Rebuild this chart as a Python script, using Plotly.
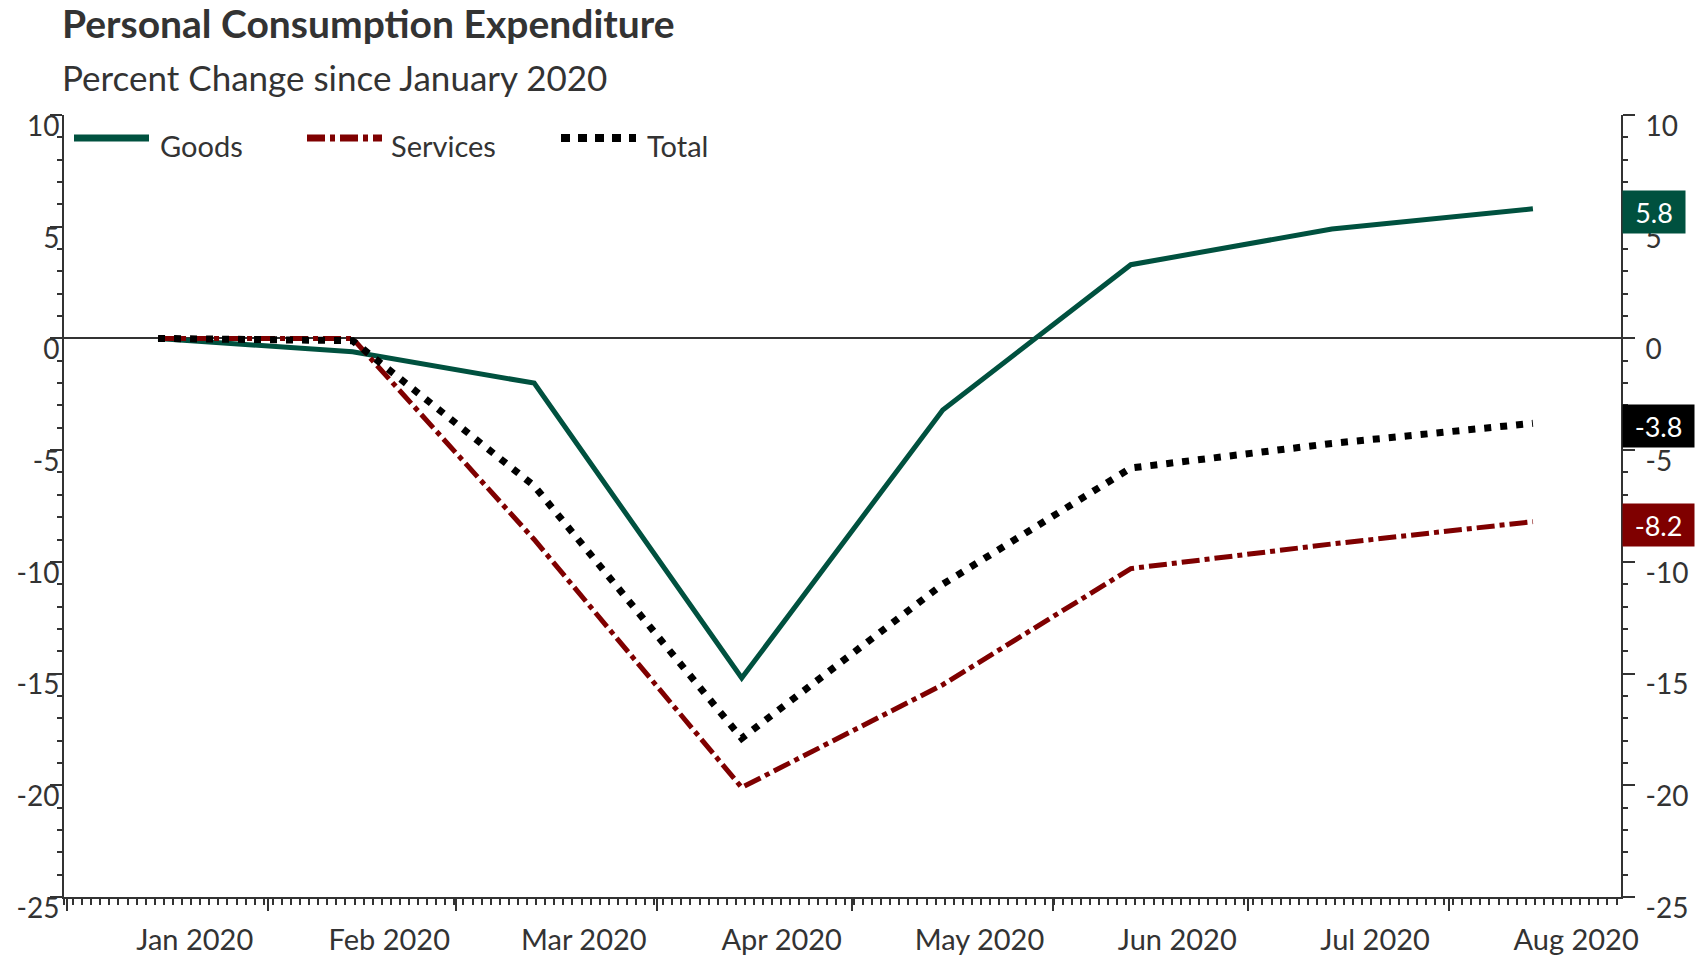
import plotly.graph_objects as go

# Monthly observations (plotted mid-month)
months = ["2020-01-15", "2020-02-14", "2020-03-13", "2020-04-14",
          "2020-05-15", "2020-06-13", "2020-07-14", "2020-08-14"]
goods = [0.0, -0.6, -2.0, -15.2, -3.2, 3.3, 4.9, 5.8]
services = [0.0, 0.0, -9.0, -20.1, -15.5, -10.3, -9.2, -8.2]
total = [0.0, -0.1, -6.6, -17.9, -11.0, -5.8, -4.7, -3.8]

series_names = ["Goods", "Services", "Total"]
series_colors = ["#00513f", "#7f0000", "#000000"]

y_tick_values = [-25, -20, -15, -10, -5, 0, 5, 10]
y_tick_labels = ["-25", "-20", "-15", "-10", "-5", "0", "5", "10"]

title_text = "Personal Consumption Expenditure"
subtitle_text = "Percent Change since January 2020"

W, H = 1702, 956
L, R, T, B = 64, 81, 115, 59
PW, PH = W - L - R, H - T - B
TEXT = "#333333"
FONT = "Lato"


def px(x):
    return (x - L) / PW


def py(y):
    return (H - B - y) / PH


fig = go.Figure()
fig.add_trace(go.Scatter(x=months, y=goods, mode="lines", name="Goods",
                         line=dict(color=series_colors[0], width=5),
                         showlegend=False))
fig.add_trace(go.Scatter(x=months, y=services, mode="lines", name="Services",
                         line=dict(color=series_colors[1], width=5,
                                   dash="18px,5px,5px,5px"),
                         showlegend=False))
fig.add_trace(go.Scatter(x=months, y=total, mode="lines", name="Total",
                         yaxis="y2",
                         line=dict(color=series_colors[2], width=7,
                                   dash="7px,9px"),
                         showlegend=False))

yaxis_common = dict(
    range=[-25, 10], tickmode="array",
    tickvals=y_tick_values, ticktext=y_tick_labels,
    ticks="outside", ticklen=12, tickwidth=2, tickcolor=TEXT,
    showline=True, linecolor=TEXT, linewidth=2, showgrid=False,
    automargin=False,
    minor=dict(tickmode="linear", dtick=1, tick0=0, ticks="outside",
               ticklen=5, tickwidth=2, tickcolor=TEXT, showgrid=False),
    tickfont=dict(family=FONT, size=28, color=TEXT),
    ticklabelshift=11,
)

fig.update_layout(
    template="none",
    width=W, height=H,
    margin=dict(l=L, r=R, t=T, b=B, autoexpand=False),
    paper_bgcolor="white", plot_bgcolor="white",
    font=dict(family=FONT, color=TEXT),
    showlegend=False,
    xaxis=dict(
        type="date", range=["2019-12-31 12:00", "2020-08-27 14:00"],
        tickmode="linear", tick0="2020-01-01", dtick="M1",
        tickformat="%b %Y", ticklabelmode="period", ticklabelshift=27,
        ticks="outside", ticklen=12, tickwidth=2, tickcolor=TEXT,
        showline=True, linecolor=TEXT, linewidth=2, showgrid=False,
        zeroline=False, automargin=False,
        minor=dict(tickmode="linear", tick0="2019-12-31 12:00",
                   dtick=1.4 * 86400000, ticks="outside", ticklen=6,
                   tickwidth=1.5, tickcolor=TEXT, showgrid=False),
        tickfont=dict(family=FONT, size=29, color=TEXT),
        ticklabelstandoff=4,
    ),
    yaxis=dict(**yaxis_common, side="left", zeroline=True,
               zerolinecolor=TEXT, zerolinewidth=1.5,
               ticklabelstandoff=-15),
    yaxis2=dict(**yaxis_common, side="right", overlaying="y",
                matches="y", zeroline=False, ticklabelstandoff=5),
)

# Title and subtitle
fig.add_annotation(text="<b>" + title_text + "</b>", xref="paper", yref="paper",
                   x=0, y=py(23), xanchor="left", yanchor="middle", xshift=-4,
                   showarrow=False, font=dict(family=FONT, size=39, color=TEXT))
fig.add_annotation(text=subtitle_text, xref="paper", yref="paper",
                   x=0, y=py(77), xanchor="left", yanchor="middle", xshift=-4,
                   showarrow=False, font=dict(family=FONT, size=35, color=TEXT))

# Legend row
legend_items = [
    (74, 162, dict(color=series_colors[0], width=7, dash="solid")),
    (307, 393, dict(color=series_colors[1], width=7, dash="18px,5px,5px,5px")),
    (561, 649, dict(color=series_colors[2], width=8, dash="9px,8px")),
]
for name, (x0, xt, ln) in zip(series_names, legend_items):
    fig.add_shape(type="line", xref="paper", yref="paper",
                  x0=px(x0), x1=px(x0 + 75), y0=py(138), y1=py(138), line=ln)
    fig.add_annotation(text=name, xref="paper", yref="paper",
                       x=px(xt), y=py(145), xanchor="left", yanchor="middle",
                       xshift=-4, showarrow=False,
                       font=dict(family=FONT, size=29, color=TEXT))

# End-of-series value tags on the right axis
for vals, col in zip([goods, total, services],
                     [series_colors[0], series_colors[2], series_colors[1]]):
    v = vals[-1]
    label = f"{v:.1f}"
    fig.add_annotation(text=label, xref="paper", yref="y",
                       x=1, y=v, xanchor="left", yanchor="middle",
                       xshift=1, yshift=-3, showarrow=False,
                       width=9 * len(label) + 25, height=32, align="center",
                       bgcolor=col, borderpad=5,
                       font=dict(family=FONT, size=27, color="white"))

fig.write_html("out.html")
